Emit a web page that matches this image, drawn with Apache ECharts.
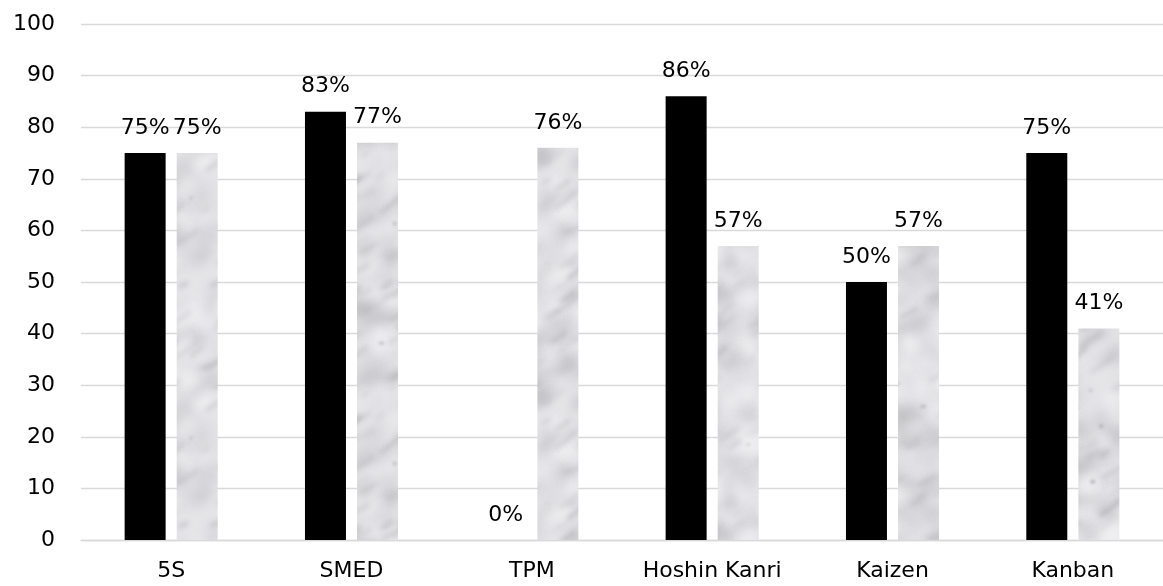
<!DOCTYPE html>
<html>
<head>
<meta charset="utf-8">
<script src="https://cdn.jsdelivr.net/npm/echarts@6/dist/echarts.min.js"></script>
<style>
  html, body { margin: 0; padding: 0; background: #fff; }
  #chart { width: 1163px; height: 586px; }
</style>
</head>
<body>
<div id="chart"></div>
<script>
// Lean tools and their adoption scores (percent)
const categories = ['5S', 'SMED', 'TPM', 'Hoshin Kanri', 'Kaizen', 'Kanban'];
const seriesA = [75, 83, 0, 86, 50, 75];
const seriesB = [75, 77, 76, 57, 57, 41];
const yTicks = { min: 0, max: 100, interval: 10 };

// Soft grey marble fill for the second series, drawn once on an offscreen canvas.
// The tile spans the full chart width so bars never show a horizontal seam.
function marbleTexture() {
  const w = 1163, h = 240;
  const c = document.createElement('canvas');
  c.width = w; c.height = h;
  const ctx = c.getContext('2d');
  let s = 424242;
  const rnd = () => { s = (s * 1103515245 + 12345) & 0x7fffffff; return s / 0x7fffffff; };
  ctx.fillStyle = '#e5e5e8';
  ctx.fillRect(0, 0, w, h);

  const blot = (x, y, rx, ry, ang, col) => {
    for (const dy of [-h, 0, h]) {
      ctx.save();
      ctx.translate(x, y + dy);
      ctx.rotate(ang);
      ctx.fillStyle = col;
      ctx.beginPath();
      ctx.ellipse(0, 0, rx, ry, 0, 0, Math.PI * 2);
      ctx.fill();
      ctx.restore();
    }
  };

  // broad cloudy patches
  ctx.filter = 'blur(6px)';
  for (let i = 0; i < 800; i++) {
    const g = Math.round(160 + rnd() * 55);
    blot(rnd() * w, rnd() * h, 7 + rnd() * 12, 3 + rnd() * 5, -0.7 + rnd() * 0.5,
      'rgba(' + g + ',' + g + ',' + (g + 4) + ',' + (0.22 + rnd() * 0.3) + ')');
  }
  // lighter washes
  for (let i = 0; i < 420; i++) {
    blot(rnd() * w, rnd() * h, 6 + rnd() * 10, 3 + rnd() * 6, rnd() * 3,
      'rgba(245,245,247,' + (0.35 + rnd() * 0.4) + ')');
  }
  // soft diagonal veins
  ctx.filter = 'blur(2.5px)';
  for (let i = 0; i < 420; i++) {
    const x = rnd() * w, y = rnd() * h;
    const len = 8 + rnd() * 16;
    const g = Math.round(140 + rnd() * 45);
    const dir = -(0.45 + rnd() * 0.4);
    const a = 0.22 + rnd() * 0.3;
    const lw = 1.5 + rnd() * 2.5;
    for (const dy of [-h, 0, h]) {
      ctx.strokeStyle = 'rgba(' + g + ',' + g + ',' + (g + 5) + ',' + a + ')';
      ctx.lineWidth = lw;
      ctx.beginPath();
      ctx.moveTo(x, y + dy);
      ctx.quadraticCurveTo(x + len * 0.5, y + dy + dir * len * 0.3, x + len, y + dy + dir * len);
      ctx.stroke();
    }
  }
  // a few faint darker specks
  ctx.filter = 'blur(1.5px)';
  for (let i = 0; i < 60; i++) {
    blot(rnd() * w, rnd() * h, 1.5 + rnd() * 1.5, 1.2 + rnd(), 0,
      'rgba(130,130,135,' + (0.25 + rnd() * 0.25) + ')');
  }
  ctx.filter = 'none';
  return c;
}

const font = 'DejaVu Sans';
const labelCfg = {
  show: true,
  position: 'top',
  distance: 14,
  color: '#000',
  fontFamily: font,
  fontSize: 22,
  formatter: p => p.value + '%'
};

const chart = echarts.init(document.getElementById('chart'), null, { renderer: 'canvas' });
chart.setOption({
  animation: false,
  grid: { left: 81, right: 0, top: 24, bottom: 46 },
  xAxis: {
    type: 'category',
    data: categories,
    axisLine: { show: true, lineStyle: { color: '#d9d9d9', width: 1.3 } },
    axisTick: { show: false },
    axisLabel: { color: '#000', fontFamily: font, fontSize: 22, margin: 20, interval: 0 }
  },
  yAxis: {
    type: 'value',
    min: yTicks.min, max: yTicks.max, interval: yTicks.interval,
    axisLine: { show: false },
    axisTick: { show: false },
    splitLine: { lineStyle: { color: '#d9d9d9', width: 1.3 } },
    axisLabel: { color: '#000', fontFamily: font, fontSize: 22, margin: 26 }
  },
  series: [
    {
      type: 'bar',
      data: seriesA,
      barWidth: 41,
      barGap: '27%',
      itemStyle: { color: '#000' },
      label: labelCfg
    },
    {
      type: 'bar',
      data: seriesB,
      barWidth: 41,
      itemStyle: { color: { image: marbleTexture(), repeat: 'repeat' } },
      label: labelCfg
    }
  ]
});
</script>
</body>
</html>
